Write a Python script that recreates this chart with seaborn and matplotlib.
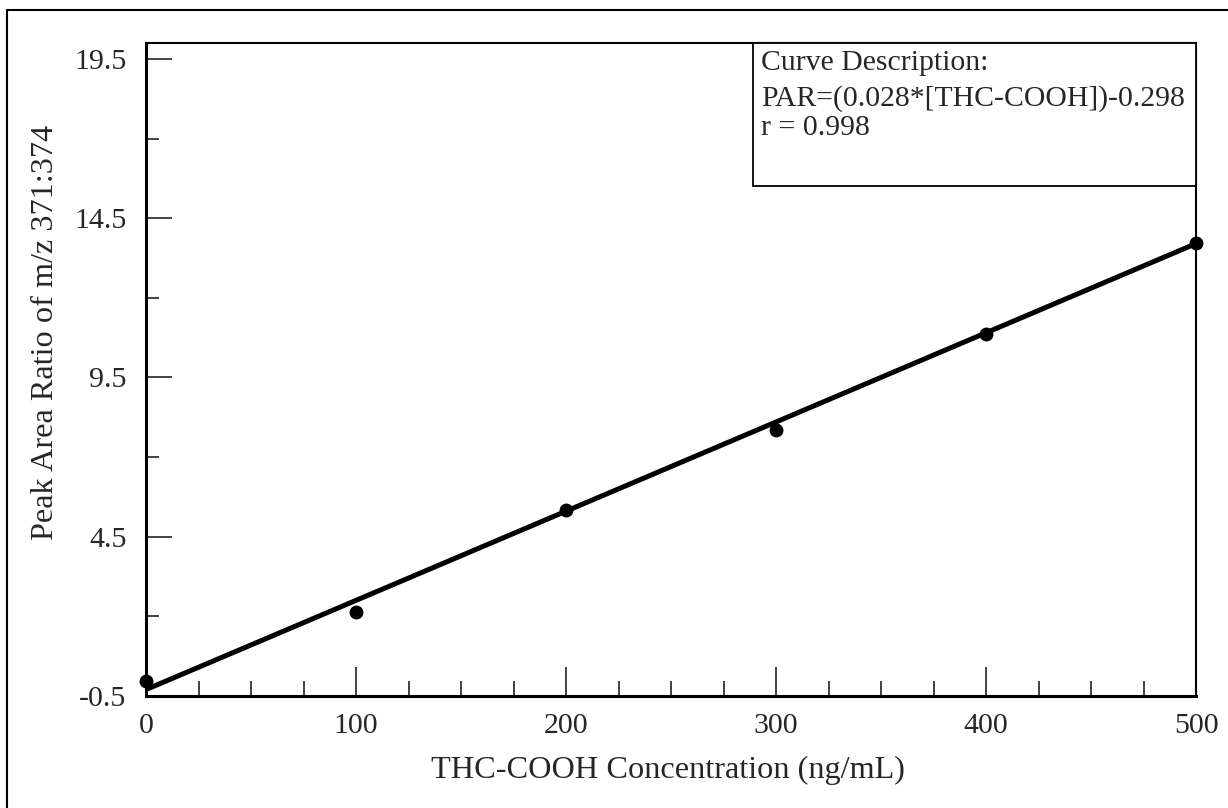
import matplotlib
matplotlib.use("Agg")
import matplotlib.pyplot as plt
import seaborn as sns
import pandas as pd
from matplotlib.ticker import MultipleLocator, FixedLocator
from matplotlib.lines import Line2D
from matplotlib.patches import Rectangle

# ---- data ----
concentration = [0, 100, 200, 300, 400, 500]
peak_area_ratio = [-0.03, 2.13, 5.33, 7.84, 10.85, 13.73]
fit_x = [0, 500]
fit_y = [-0.298, 13.702]
x_ticks = [0, 100, 200, 300, 400, 500]
y_ticks = [-0.5, 4.5, 9.5, 14.5, 19.5]
y_ticklabels = ["-0.5", "4.5", "9.5", "14.5", "19.5"]
box_lines = ["Curve Description:", "PAR=(0.028*[THC-COOH])-0.298", "r = 0.998"]

sns.set_theme(style="ticks")
plt.rcParams['font.family'] = ['Liberation Serif', 'DejaVu Serif']

fig = plt.figure(figsize=(12.28, 8.08), dpi=100)
ax = fig.add_axes([146/1228, (808-696)/808, (1196-146)/1228, (696-43)/808])

pts = pd.DataFrame({"x": concentration, "y": peak_area_ratio})
fit = pd.DataFrame({"x": fit_x, "y": fit_y})

sns.lineplot(data=fit, x="x", y="y", ax=ax, color="black", linewidth=3.6, zorder=3)
sns.scatterplot(data=pts, x="x", y="y", ax=ax, color="black", s=100, edgecolor="black",
                linewidth=0, zorder=4, clip_on=False)

ax.set_xlim(0, 500)
ax.set_ylim(-0.5, 20.0)
ax.xaxis.set_major_locator(FixedLocator(x_ticks))
ax.xaxis.set_minor_locator(MultipleLocator(25))
ax.yaxis.set_major_locator(FixedLocator(y_ticks))
ax.set_yticklabels(y_ticklabels)
ax.yaxis.set_minor_locator(FixedLocator([2, 7, 12, 17]))

ax.tick_params(axis='both', which='both', direction='in', width=1.2, color='#222222',
               labelsize=21.5)
ax.tick_params(axis='y', which='major', length=19, pad=14)
ax.tick_params(axis='y', which='minor', length=9.5)
ax.tick_params(axis='x', which='major', length=21, pad=12)
ax.tick_params(axis='x', which='minor', length=11)

for s in ["left", "bottom"]:
    ax.spines[s].set_linewidth(2.2)
    ax.spines[s].set_color("black")
for s in ["top", "right"]:
    ax.spines[s].set_linewidth(1.5)
    ax.spines[s].set_color("black")

ax.set_xlabel("THC-COOH Concentration (ng/mL)", fontsize=23.2)
ax.xaxis.set_label_coords(0.497, -0.092)
ax.set_ylabel("Peak Area Ratio of m/z 371:374", fontsize=23.2)
ax.yaxis.set_label_coords(-0.0819, 0.556)

# text box
bx0 = (753-146)/(1196-146)
by0 = (696-186)/(696-43)
ax.add_patch(Rectangle((bx0, by0), 1-bx0, 1-by0, transform=ax.transAxes,
                       facecolor="white", edgecolor="black", linewidth=1.3, zorder=5,
                       clip_on=False))
line_offsets = [7, 42, 72]
for line, off in zip(box_lines, line_offsets):
    ax.text(bx0 + 8/1050, 1 - off/653, line, transform=ax.transAxes,
            fontsize=21.4, va="top", ha="left", zorder=6)

# outer frame (left and top edges)
fig.add_artist(Line2D([7/1228, 7/1228], [0, 1 - 10/808], transform=fig.transFigure,
                      color="black", linewidth=1.5))
fig.add_artist(Line2D([7/1228, 1], [1 - 10/808, 1 - 10/808], transform=fig.transFigure,
                      color="black", linewidth=1.5))

fig.savefig("out.png", dpi=100)
